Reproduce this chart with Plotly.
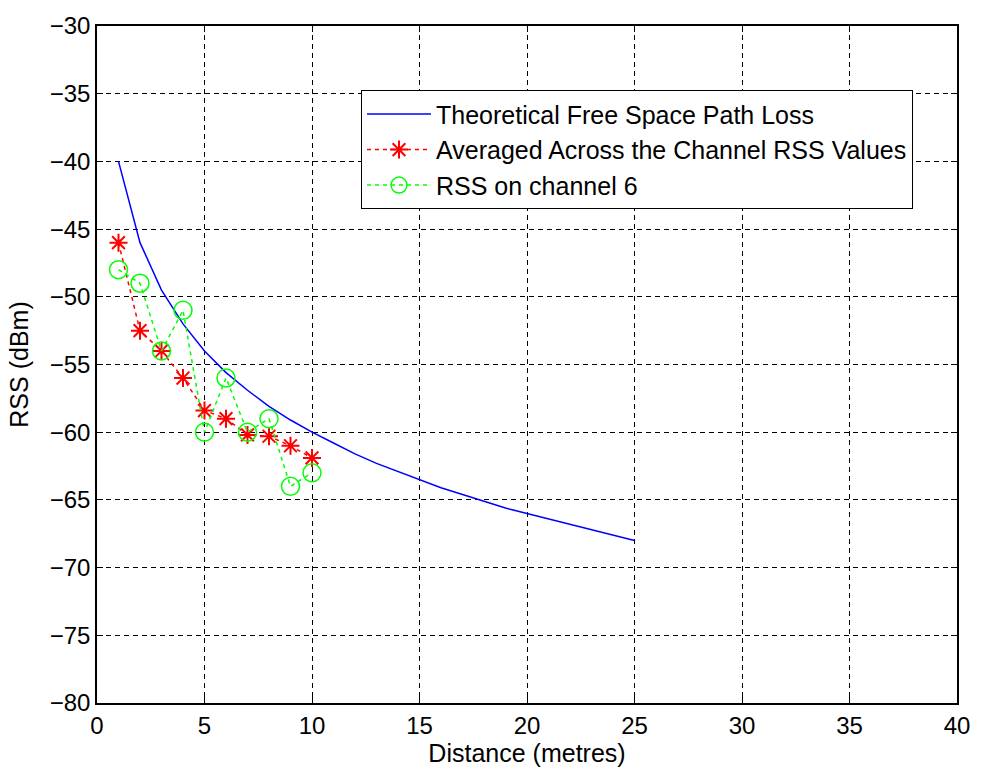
import plotly.graph_objects as go

# Theoretical free space path loss, read at each metre from 1 to 25
fspl_dist = list(range(1, 26))
fspl_rss = [-40.0, -46.0, -49.5, -52.0, -54.0, -55.6, -56.9, -58.1, -59.1, -60.0,
            -60.8, -61.6, -62.3, -62.9, -63.5, -64.1, -64.6, -65.1, -65.6, -66.0,
            -66.4, -66.8, -67.2, -67.6, -68.0]

# Measured values at 1..10 m
meas_dist = [1, 2, 3, 4, 5, 6, 7, 8, 9, 10]
avg_rss = [-46.0, -52.5, -54.0, -56.0, -58.4, -59.0, -60.2, -60.3, -61.0, -61.9]
ch6_rss = [-48.0, -49.0, -54.0, -51.0, -60.0, -56.0, -60.0, -59.0, -64.0, -63.0]

x_ticks = [0, 5, 10, 15, 20, 25, 30, 35, 40]
y_ticks = [-80, -75, -70, -65, -60, -55, -50, -45, -40, -35, -30]

font_family = "Liberation Sans, Arial, sans-serif"

fig = go.Figure()
fig.add_trace(go.Scatter(
    x=fspl_dist, y=fspl_rss, mode="lines",
    name="Theoretical Free Space Path Loss",
    line=dict(color="#0000ff", width=1.5),
))
fig.add_trace(go.Scatter(
    x=meas_dist, y=avg_rss, mode="lines+markers",
    name="Averaged Across the Channel RSS Values",
    line=dict(color="#ff0000", width=1.5, dash="4px,4px"),
    marker=dict(symbol="asterisk-open", size=15, color="#ff0000",
                line=dict(color="#ff0000", width=2)),
))
fig.add_trace(go.Scatter(
    x=meas_dist, y=ch6_rss, mode="lines+markers",
    name="RSS on channel 6",
    line=dict(color="#00ff00", width=1.5, dash="4px,4px"),
    marker=dict(symbol="circle-open", size=18, color="#00ff00",
                line=dict(color="#00ff00", width=1.5)),
))

axis_common = dict(
    showline=True, linecolor="black", linewidth=1.5, mirror="ticks",
    ticks="inside", ticklen=6, tickcolor="black", tickwidth=1,
    showgrid=True, gridcolor="black", gridwidth=1, griddash="5px,4px",
    zeroline=False,
    tickfont=dict(family=font_family, size=24, color="black"),
    title_font=dict(family=font_family, size=25, color="black"),
)

fig.update_layout(
    width=982, height=775,
    margin=dict(l=97, r=17, t=18, b=72),
    paper_bgcolor="white", plot_bgcolor="white",
    font=dict(family=font_family, color="black"),
    xaxis=dict(range=[0, 40], tickvals=x_ticks, title=dict(text="Distance (metres)", standoff=6),
               **axis_common),
    yaxis=dict(range=[-80, -30], tickvals=y_ticks, title=dict(text="RSS (dBm)", standoff=14),
               **axis_common),
    legend=dict(
        x=0.307, y=0.905, xanchor="left", yanchor="top",
        bgcolor="white", bordercolor="black", borderwidth=1,
        font=dict(family=font_family, size=25, color="black"),
        itemwidth=64, tracegroupgap=0,
    ),
)

fig.write_html("out.html")
